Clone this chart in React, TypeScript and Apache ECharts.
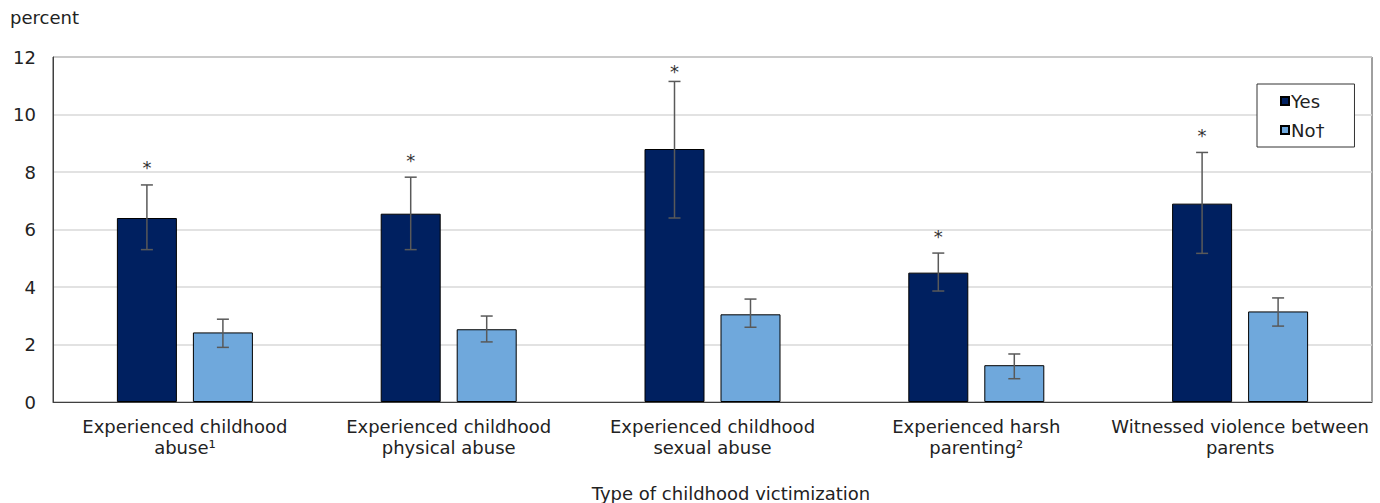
import React, { useEffect, useRef } from "react";
import * as echarts from "echarts";

// Share of people reporting the outcome, by type of childhood victimization (percent)
const categories = [
  "Experienced childhood\nabuse¹",
  "Experienced childhood\nphysical abuse",
  "Experienced childhood\nsexual abuse",
  "Experienced harsh\nparenting²",
  "Witnessed violence between\nparents",
];
const seriesNames = ["Yes", "No†"];
const yesValues = [6.4, 6.55, 8.8, 4.5, 6.9];
const yesLow = [5.3, 5.3, 6.4, 3.86, 5.17];
const yesHigh = [7.55, 7.82, 11.15, 5.18, 8.68];
const noValues = [2.42, 2.53, 3.05, 1.28, 3.15];
const noLow = [1.9, 2.09, 2.6, 0.81, 2.64];
const noHigh = [2.88, 2.99, 3.58, 1.67, 3.62];
// significantly different from the reference group (No)
const significant = [true, true, true, true, true];
const yMin = 0;
const yMax = 12;
const yStep = 2;

const FONT = "DejaVu Sans";
const FS = 18;
const TEXT = "#222";
const BAR_W = 60;
const BAR_GAP = 16;
const OFFSET = (BAR_W + BAR_GAP) / 2;

function errorSeries(low: number[], high: number[], side: number, stars: boolean[] | null) {
  return {
    type: "custom",
    z: 5,
    silent: true,
    encode: { x: 0, y: [1, 2] },
    data: low.map((l, i) => [i, l, high[i]]),
    renderItem: (params: any, api: any) => {
      const idx = api.value(0);
      const top = api.coord([idx, api.value(2)]);
      const bot = api.coord([idx, api.value(1)]);
      const x = top[0] + side * OFFSET;
      const cap = 6;
      const stroke = { stroke: "#595959", lineWidth: 1.5 };
      const children: any[] = [
        { type: "line", shape: { x1: x, y1: top[1], x2: x, y2: bot[1] }, style: stroke },
        { type: "line", shape: { x1: x - cap, y1: top[1], x2: x + cap, y2: top[1] }, style: stroke },
        { type: "line", shape: { x1: x - cap, y1: bot[1], x2: x + cap, y2: bot[1] }, style: stroke },
      ];
      if (stars && stars[idx]) {
        const gridTop = params.coordSys.y;
        const y = Math.max(top[1] - 17, gridTop + 14);
        children.push({
          type: "text",
          x,
          y,
          style: {
            text: "*",
            fill: "#333",
            font: `${FS}px "${FONT}"`,
            align: "center",
            verticalAlign: "middle",
          },
        });
      }
      return { type: "group", children };
    },
  };
}

export default function App() {
  const ref = useRef<HTMLDivElement>(null);

  useEffect(() => {
    if (!ref.current) return;
    const chart = echarts.init(ref.current, undefined, { renderer: "svg" });
    chart.setOption({
      animation: false,
      backgroundColor: "#fff",
      textStyle: { fontFamily: FONT, color: TEXT },
      grid: {
        left: 53,
        right: 8,
        top: 57,
        bottom: 101,
        show: true,
        borderColor: "#404040",
        borderWidth: 1,
      },
      legend: {
        orient: "vertical",
        left: 1257,
        top: 84,
        data: seriesNames,
        itemWidth: 8,
        itemHeight: 8,
        itemGap: 11,
        padding: [8, 30, 8, 23],
        borderColor: "#333",
        borderWidth: 1,
        backgroundColor: "#fff",
        icon: "rect",
        textStyle: { fontSize: FS, color: TEXT, fontFamily: FONT, padding: [0, 0, 0, -3] },
      },
      xAxis: {
        type: "category",
        data: categories,
        axisTick: { show: false },
        axisLine: { lineStyle: { color: "#404040", width: 1 } },
        axisLabel: {
          interval: 0,
          fontSize: FS,
          lineHeight: 21,
          margin: 14,
          color: TEXT,
          fontFamily: FONT,
        },
      },
      yAxis: {
        type: "value",
        min: yMin,
        max: yMax,
        interval: yStep,
        axisLine: { show: true, lineStyle: { color: "#404040", width: 1 } },
        axisTick: { show: false },
        splitLine: { lineStyle: { color: "#d9d9d9", width: 1.5 } },
        axisLabel: { fontSize: FS, margin: 17, color: TEXT, fontFamily: FONT },
      },
      graphic: [
        {
          type: "text",
          left: 10,
          top: 8,
          style: { text: "percent", font: `${FS}px "${FONT}"`, fill: TEXT },
        },
        {
          type: "text",
          x: 731,
          y: 493,
          style: {
            text: "Type of childhood victimization",
            font: `${FS}px "${FONT}"`,
            fill: TEXT,
            align: "center",
            verticalAlign: "middle",
          },
        },
      ],
      series: [
        {
          name: seriesNames[0],
          type: "bar",
          data: yesValues,
          barWidth: BAR_W,
          barGap: `${(BAR_GAP / BAR_W) * 100}%`,
          itemStyle: { color: "#002060", borderColor: "#000", borderWidth: 1 },
        },
        {
          name: seriesNames[1],
          type: "bar",
          data: noValues,
          barWidth: BAR_W,
          barGap: `${(BAR_GAP / BAR_W) * 100}%`,
          itemStyle: { color: "#6FA8DC", borderColor: "#000", borderWidth: 1 },
        },
        errorSeries(yesLow, yesHigh, -1, significant),
        errorSeries(noLow, noHigh, 1, null),
      ],
    });
    return () => chart.dispose();
  }, []);

  return (
    <div
      ref={ref}
      style={{ position: "fixed", left: 0, top: 0, width: 1380, height: 503 }}
    />
  );
}
